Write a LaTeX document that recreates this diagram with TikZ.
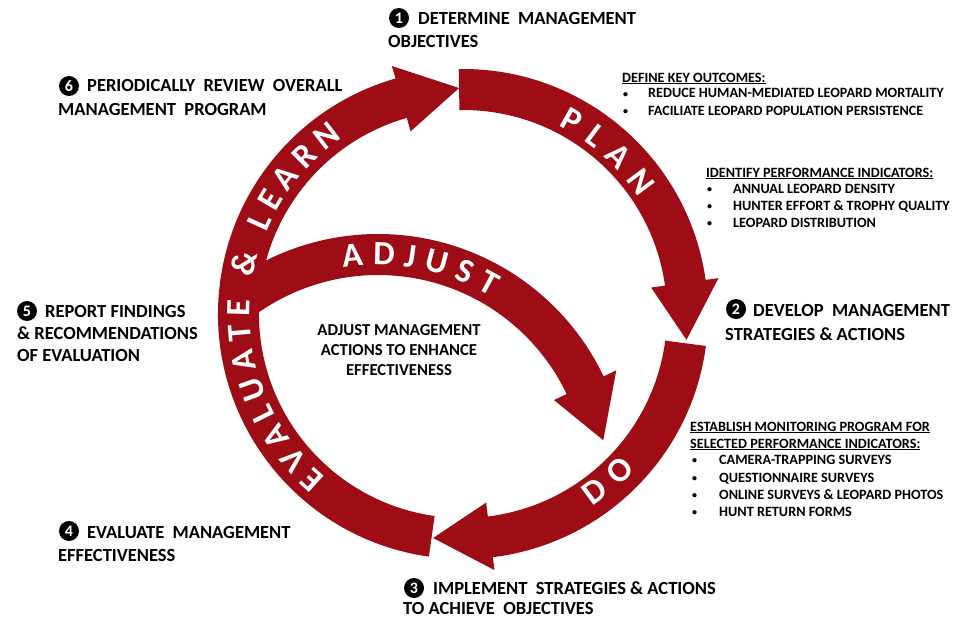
\documentclass[tikz,border=0pt]{standalone}
\usepackage{fontspec}
\setmainfont{Carlito}
\usetikzlibrary{decorations.text}
\definecolor{ringred}{RGB}{158,12,22}
\begin{document}
\begin{tikzpicture}[x=1pt,y=1pt,
  lab/.style={anchor=base west, inner sep=0pt, font=\fontsize{18.5}{22}\selectfont\bfseries},
  lst/.style={anchor=base west, inner sep=0pt, font=\fontsize{14.2}{16}\selectfont\bfseries},
  bul/.style={anchor=base west, inner sep=0pt, font=\fontsize{10}{12}\selectfont\bfseries},
  mid/.style={anchor=base, inner sep=0pt, font=\fontsize{16.7}{20}\selectfont\bfseries},
  num/.style={circle, fill=black, text=white, inner sep=0pt, minimum size=20pt, font=\fontsize{16}{16}\selectfont\bfseries},
  ringtxt/.style={decorate, decoration={text along path, text align=fit to path, text color=white, text={|\fontsize{34}{34}\selectfont\bfseries|#1}}}
]
\useasboundingbox (0,-618) rectangle (959,0);
\fill[white] (0,-618) rectangle (959,0);

% main ring arrows
\begin{scope}[shift={(463,-314)}]
  \fill[ringred] (91:245) arc[start angle=91, end angle=8, radius=245] -- (8:258) -- (-6.6:225) -- (8:190) -- (8:204) arc[start angle=8, end angle=91, radius=204] -- cycle;
  \fill[ringred] (-7.5:245) arc[start angle=-7.5, end angle=-83, radius=245] -- (-83:258) -- (-97.6:226) -- (-83:190) -- (-83:204) arc[start angle=-83, end angle=-7.5, radius=204] -- cycle;
  \fill[ringred] (-98:245) arc[start angle=-98, end angle=-254, radius=245] -- (-254:258) -- (-269:226) -- (-254:190) -- (-254:204) arc[start angle=-254, end angle=-98, radius=204] -- cycle;
\end{scope}
% adjust arrow
\begin{scope}[shift={(378,-484)}]
  \fill[ringred] (127:250) arc[start angle=127, end angle=25.5, radius=250] -- (25.5:264) -- (11:229.5) -- (25.5:195) -- (25.5:209) arc[start angle=25.5, end angle=127, radius=209] -- cycle;
  \path[ringtxt={ADJUST}] (99:219) arc[start angle=99, end angle=59, radius=219];
\end{scope}
% ring texts
\begin{scope}[shift={(463,-314)}]
  \path[ringtxt={PLAN}] (63:211) arc[start angle=63, end angle=33.5, radius=211];
  \path[ringtxt={DO}] (-56.2:232) arc[start angle=-56.2, end angle=-42.1, radius=232];
  \path[ringtxt={EVALUATE {\&} LEARN}] (230:213) arc[start angle=230, end angle=124.5, radius=213];
\end{scope}

% numbered labels
\node[num] (n1) at (399,-18) {1};
\node[lab] (l1a) at (418,-25) {DETERMINE\ \ MANAGEMENT};
\node[lab] (l1b) at (388,-48) {OBJECTIVES};
\node[num] (n2) at (736,-309) {2};
\node[lab] (l2a) at (753,-316) {DEVELOP\ \ MANAGEMENT};
\node[lab] (l2b) at (725,-340) {STRATEGIES \& ACTIONS};
\node[num] (n3) at (414,-588) {3};
\node[lab] (l3a) at (433,-594) {IMPLEMENT\ \ STRATEGIES \& ACTIONS};
\node[lab] (l3b) at (403,-614) {TO ACHIEVE\ \ OBJECTIVES};
\node[num] (n4) at (69,-531) {4};
\node[lab] (l4a) at (87,-538) {EVALUATE\ \ MANAGEMENT};
\node[lab] (l4b) at (58,-561) {EFFECTIVENESS};
\node[num] (n5) at (27,-311) {5};
\node[lab] (l5a) at (45,-317) {REPORT FINDINGS};
\node[lab] (l5b) at (17,-339) {\& RECOMMENDATIONS};
\node[lab] (l5c) at (17,-361) {OF EVALUATION};
\node[num] (n6) at (69,-86) {6};
\node[lab] (l6a) at (87,-92) {PERIODICALLY\ \ REVIEW\ \ OVERALL};
\node[lab] (l6b) at (58,-115) {MANAGEMENT\ \ PROGRAM};

% centre text
\node[mid] (m1) at (399,-335) {ADJUST MANAGEMENT};
\node[mid] (m2) at (399,-355) {ACTIONS TO ENHANCE};
\node[mid] (m3) at (399,-375) {EFFECTIVENESS};

% lists
\node[lst] (o0) at (622,-82) {\underline{DEFINE KEY OUTCOMES:}};
\node[bul] (o1b) at (623,-97) {•};
\node[lst] (o1) at (648,-98) {REDUCE HUMAN-MEDIATED LEOPARD MORTALITY};
\node[bul] (o2b) at (623,-114) {•};
\node[lst] (o2) at (648,-115) {FACILIATE LEOPARD POPULATION PERSISTENCE};

\node[lst] (p0) at (706,-177) {\underline{IDENTIFY PERFORMANCE INDICATORS:}};
\node[bul] (p1b) at (707,-192) {•};
\node[lst] (p1) at (733,-193) {ANNUAL LEOPARD DENSITY};
\node[bul] (p2b) at (707,-209) {•};
\node[lst] (p2) at (733,-210) {HUNTER EFFORT \& TROPHY QUALITY};
\node[bul] (p3b) at (707,-226) {•};
\node[lst] (p3) at (733,-227) {LEOPARD DISTRIBUTION};

\node[lst] (e0) at (690,-431) {\underline{ESTABLISH MONITORING PROGRAM FOR}};
\node[lst] (e0b) at (690,-448) {\underline{SELECTED PERFORMANCE INDICATORS:}};
\node[bul] (e1b) at (692,-463) {•};
\node[lst] (e1) at (719,-464) {CAMERA-TRAPPING SURVEYS};
\node[bul] (e2b) at (692,-481) {•};
\node[lst] (e2) at (719,-482) {QUESTIONNAIRE SURVEYS};
\node[bul] (e3b) at (692,-498) {•};
\node[lst] (e3) at (719,-499) {ONLINE SURVEYS \& LEOPARD PHOTOS};
\node[bul] (e4b) at (692,-515) {•};
\node[lst] (e4) at (719,-516) {HUNT RETURN FORMS};
\end{tikzpicture}
\end{document}
